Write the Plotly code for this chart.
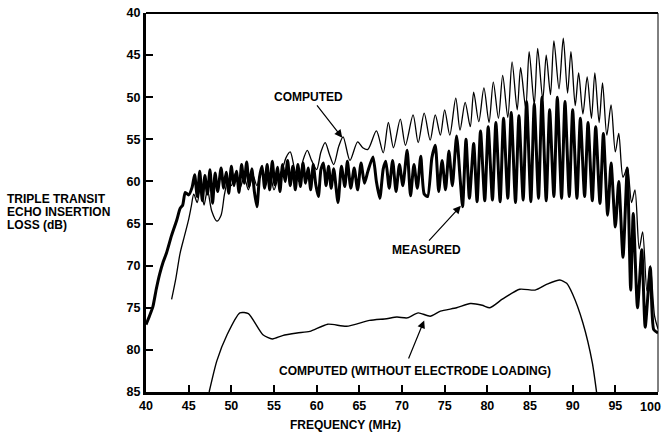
import plotly.graph_objects as go

# ---------------- data ----------------
computed_freq = [43.0, 43.5, 44.0, 44.5, 45.0, 45.3, 45.6, 46.0, 46.4, 46.8, 47.2, 47.7, 48.3, 48.8,
                 49.2, 49.6, 50.0, 50.5, 51.0, 51.5, 52.0, 52.5, 53.0, 53.5, 54.0, 54.5, 55.0, 55.5,
                 56.0, 56.4, 56.9, 57.4, 57.9, 58.4, 58.9, 59.4, 60.0, 60.5, 61.0, 61.5, 62.0, 62.6,
                 63.1, 63.9, 64.8, 65.4, 66.0, 67.0, 67.8, 68.4, 69.0, 69.8, 70.4, 71.3, 71.9, 72.6,
                 73.3, 73.9, 74.5, 75.0, 75.6, 76.3, 76.8, 77.4, 78.0, 78.4, 79.0, 79.6, 80.2, 80.7,
                 81.3, 81.8, 82.4, 82.9, 83.5, 83.9, 84.5, 84.9, 85.5, 85.9, 86.5, 86.9, 87.4, 87.8,
                 88.4, 88.9, 89.4, 89.8, 90.3, 90.7, 91.2, 91.7, 92.2, 92.6, 93.1, 93.5, 94.0, 94.5,
                 95.0, 95.4, 95.9, 96.4, 96.9, 97.3, 97.8, 98.2, 98.7, 99.1, 99.6, 100.0]
computed_loss = [74.0, 71.5, 68.5, 66.5, 64.5, 63.0, 61.5, 62.5, 60.5, 62.8, 61.0, 63.5, 64.7, 64.0,
                 61.5, 60.0, 60.5, 59.0, 60.8, 59.5, 61.0, 59.2, 60.5, 58.8, 60.5, 59.0, 61.0, 59.5,
                 58.5, 57.2, 56.5, 58.5, 60.0, 57.5, 56.3, 57.5, 58.6, 56.5, 55.4, 56.8, 58.0, 55.8,
                 54.7, 57.5, 55.3, 56.0, 56.2, 54.0, 56.6, 53.0, 56.0, 52.6, 55.7, 52.1, 55.4, 51.9,
                 55.1, 52.1, 54.5, 51.5, 54.5, 50.1, 53.9, 50.6, 53.5, 49.4, 52.9, 48.9, 53.0, 48.2,
                 52.5, 47.4, 52.4, 45.8, 51.5, 46.5, 51.3, 44.6, 50.9, 44.2, 50.3, 45.0, 49.7, 43.3,
                 49.0, 43.0, 49.5, 44.6, 51.0, 47.1, 52.0, 47.6, 52.5, 47.1, 53.0, 48.3, 54.5, 50.9,
                 56.5, 54.3, 59.5, 58.4, 62.5, 61.0, 68.0, 66.0, 73.0, 70.0, 76.0, 77.5]

measured_freq = [40.0, 40.4, 40.8, 41.2, 41.6, 42.0, 42.4, 43.0, 43.6, 44.0, 44.3, 44.6, 45.0, 45.4,
                 45.7, 46.0, 46.3, 46.6, 46.9, 47.2, 47.5, 47.8, 48.1, 48.4, 48.8, 49.1, 49.4, 49.7,
                 50.0, 50.3, 50.6, 50.9, 51.2, 51.5, 51.8, 52.1, 52.4, 52.7, 53.0, 53.3, 53.6, 53.9,
                 54.2, 54.5, 54.8, 55.1, 55.4, 55.7, 56.0, 56.3, 56.6, 56.9, 57.2, 57.5, 57.8, 58.1,
                 58.4, 58.7, 59.0, 59.3, 59.6, 59.9, 60.2, 60.5, 60.8, 61.1, 61.4, 61.7, 62.0, 62.5,
                 62.9, 63.3, 63.6, 64.0, 64.4, 64.8, 65.2, 65.6, 66.0, 66.6, 67.0, 67.4, 67.8, 68.1,
                 68.5, 68.9, 69.3, 69.7, 70.1, 70.6, 71.0, 71.4, 71.8, 72.2, 72.6, 73.0, 73.5, 73.9,
                 74.3, 74.7, 75.1, 75.5, 75.9, 76.4, 76.8, 77.1, 77.5, 77.9, 78.4, 78.8, 79.2, 79.7,
                 80.1, 80.6, 81.0, 81.5, 81.9, 82.4, 82.8, 83.3, 83.7, 84.2, 84.6, 85.1, 85.5, 86.0,
                 86.4, 86.9, 87.3, 87.8, 88.2, 88.7, 89.1, 89.6, 90.0, 90.5, 90.9, 91.4, 91.8, 92.3,
                 92.7, 93.2, 93.6, 94.1, 94.5, 95.0, 95.4, 95.9, 96.4, 96.8, 97.1, 97.6, 98.1, 98.5,
                 99.1, 99.5, 100.0]
measured_loss = [77.0, 76.0, 74.9, 72.8, 71.0, 69.6, 68.5, 66.4, 64.6, 63.2, 62.8, 61.3, 61.6, 60.7,
                 59.2, 61.8, 58.8, 62.3, 59.3, 61.5, 58.6, 62.6, 59.0, 61.2, 58.4, 60.8, 58.9, 61.4,
                 58.2, 60.5, 58.8, 61.3, 58.0, 60.2, 57.7, 60.6, 58.5, 61.2, 63.0, 59.5, 58.2, 60.8,
                 58.0, 61.0, 57.6, 60.4, 58.3, 61.2, 58.0, 60.0, 57.5, 60.5, 58.2, 61.0, 58.0, 60.6,
                 57.8, 60.2, 58.4, 61.0, 58.0, 60.4, 61.8, 58.6, 57.8, 60.5, 58.2, 60.8, 58.5, 62.5,
                 58.2, 60.6, 57.6, 60.8, 58.4, 61.0, 57.8, 60.2, 58.8, 57.1, 60.0, 62.0, 58.5, 57.6,
                 60.8, 57.5, 61.2, 58.0, 60.5, 56.3, 61.7, 58.0, 60.8, 57.0, 61.5, 61.8, 57.2, 55.7,
                 61.2, 57.5, 61.0, 56.4, 60.5, 54.6, 59.5, 63.0, 55.0, 62.0, 55.5, 62.4, 54.0, 62.3,
                 53.5, 62.2, 53.0, 62.4, 52.5, 62.0, 51.8, 62.5, 52.2, 62.2, 50.5, 62.4, 50.8, 62.0,
                 50.0, 62.3, 51.5, 61.8, 50.0, 62.0, 50.5, 61.8, 51.5, 62.0, 52.5, 61.8, 53.0, 62.3,
                 53.5, 62.6, 54.3, 64.0, 57.8, 65.4, 60.0, 69.0, 58.4, 72.9, 63.8, 75.0, 68.1, 77.3,
                 70.2, 77.6, 78.0]

noload_freq = [47.4, 48.3, 49.5, 51.0, 52.0, 53.7, 54.8, 56.0, 57.7, 59.2, 61.3, 63.5, 66.2, 68.2,
               69.4, 70.6, 71.9, 73.3, 74.5, 76.4, 78.0, 79.4, 80.3, 81.8, 83.8, 85.6, 87.0, 88.5,
               89.3, 90.0, 91.2, 92.3, 92.8]
noload_loss = [85.0, 81.3, 78.2, 75.6, 75.7, 78.2, 78.7, 78.3, 78.0, 77.8, 76.95, 77.2, 76.5, 76.3,
               76.1, 76.2, 75.6, 76.0, 75.4, 75.0, 74.5, 74.7, 75.0, 73.95, 72.8, 72.9, 72.2, 71.7,
               72.1, 73.4, 76.8, 81.5, 85.0]

x_ticks = [40, 45, 50, 55, 60, 65, 70, 75, 80, 85, 90, 95, 100]
x_tick_labels = ["40", "45", "50", "55", "60", "65", "70", "75", "80", "85", "90", "95", ""]
last_x_label = "100"   # drawn right-aligned so it stays inside the picture
y_ticks = [40, 45, 50, 55, 60, 65, 70, 75, 80, 85]
y_title_lines = ["TRIPLE TRANSIT", "ECHO INSERTION", "LOSS (dB)"]

# ---------------- figure ----------------
FONT = "Liberation Sans, Arial, Helvetica, sans-serif"
fig = go.Figure()

fig.add_trace(go.Scatter(x=noload_freq, y=noload_loss, mode="lines",
                         line=dict(color="black", width=1.4, shape="spline", smoothing=0.6),
                         name="COMPUTED (WITHOUT ELECTRODE LOADING)", hoverinfo="skip"))
fig.add_trace(go.Scatter(x=computed_freq, y=computed_loss, mode="lines",
                         line=dict(color="black", width=1.3, shape="spline", smoothing=0.8),
                         name="COMPUTED"))
fig.add_trace(go.Scatter(x=measured_freq, y=measured_loss, mode="lines",
                         line=dict(color="black", width=3, shape="spline", smoothing=0.6),
                         name="MEASURED"))

tickfont = dict(family=FONT, size=12.5, color="black", weight="bold")
fig.update_layout(
    width=665, height=436,
    margin=dict(l=146, r=7, t=13, b=44, autoexpand=False),
    paper_bgcolor="white", plot_bgcolor="white",
    showlegend=False,
    font=dict(family=FONT, color="black", size=12),
    xaxis=dict(range=[40, 100], tickvals=x_ticks, ticktext=x_tick_labels,
               ticks="inside", ticklen=7, tickwidth=1.5,
               tickcolor="black", showline=True, linewidth=3, linecolor="black",
               showgrid=False, zeroline=False, automargin=False,
               tickfont=tickfont),
    yaxis=dict(range=[85, 40], tickvals=y_ticks, ticks="inside", ticklen=7, tickwidth=1.5,
               tickcolor="black", showline=True, linewidth=3, linecolor="black",
               showgrid=False, zeroline=False, automargin=False,
               tickfont=tickfont),
    shapes=[
        dict(type="line", xref="paper", yref="paper", x0=0, x1=1, y0=1, y1=1,
             line=dict(color="black", width=2)),
        dict(type="line", xref="paper", yref="paper", x0=1, x1=1, y0=0, y1=1,
             line=dict(color="black", width=1)),
    ],
)

bold = dict(family=FONT, size=12, color="black", weight="bold")
plot_w = 665 - 146 - 7
plot_h = 436 - 13 - 44


def px_x(px):
    return (px - 146) / plot_w


def px_y(py):
    return (436 - 44 - py) / plot_h


annots = [
    dict(text="COMPUTED", x=59.0, y=50.0, xref="x", yref="y", showarrow=False, font=bold),
    dict(text="MEASURED", x=72.9, y=68.1, xref="x", yref="y", showarrow=False, font=bold),
    dict(text="COMPUTED (WITHOUT ELECTRODE LOADING)", x=71.5, y=82.5, xref="x", yref="y",
         showarrow=False, font=bold),
    dict(text="", x=63.0, y=54.8, ax=59.9, ay=50.8, xref="x", yref="y", axref="x", ayref="y",
         showarrow=True, arrowhead=2, arrowsize=1.3, arrowwidth=1.2, arrowcolor="black"),
    dict(text="", x=76.9, y=62.9, ax=73.0, ay=67.2, xref="x", yref="y", axref="x", ayref="y",
         showarrow=True, arrowhead=2, arrowsize=1.3, arrowwidth=1.2, arrowcolor="black"),
    dict(text="", x=72.6, y=76.5, ax=70.7, ay=81.2, xref="x", yref="y", axref="x", ayref="y",
         showarrow=True, arrowhead=2, arrowsize=1.3, arrowwidth=1.2, arrowcolor="black"),
    dict(text="FREQUENCY (MHz)", x=px_x(345), y=px_y(416),
         xref="paper", yref="paper", showarrow=False, font=bold, yanchor="top"),
    dict(text=last_x_label, x=px_x(663), y=px_y(398), xref="paper", yref="paper",
         showarrow=False, xanchor="right", yanchor="top", font=tickfont),
]
for i, line in enumerate(y_title_lines):
    annots.append(dict(text=line, x=px_x(5), y=px_y(199 + 13 * i), xref="paper", yref="paper",
                       showarrow=False, xanchor="left", yanchor="middle", font=bold))
fig.update_layout(annotations=annots)

fig.write_html("out.html")
